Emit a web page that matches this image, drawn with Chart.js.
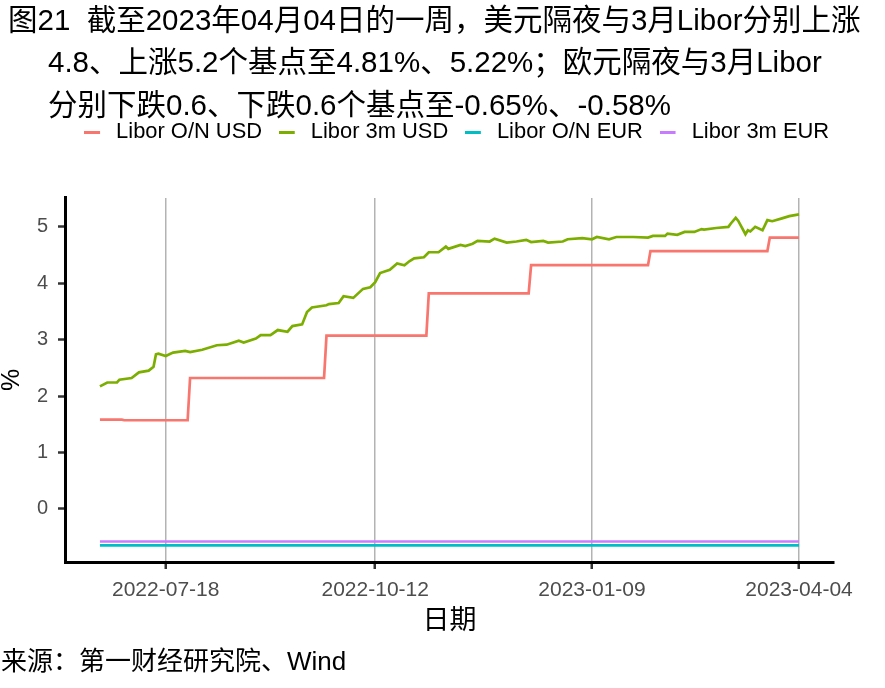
<!DOCTYPE html>
<html>
<head>
<meta charset="utf-8">
<script src="https://cdn.jsdelivr.net/npm/chart.js@4.4.1/dist/chart.umd.min.js"></script>
<style>
  body { margin: 0; background: #fff; }
  #wrap { position: relative; width: 885px; height: 688px; font-family: "Liberation Sans", "Noto Sans CJK SC", sans-serif; }
  #chart { position: absolute; left: 0; top: 0; }
  .txt { position: absolute; white-space: nowrap; color: #000; }
  .title { font-size: 29.5px; line-height: 34px; }
  .source { font-size: 26px; line-height: 30px; }
</style>
</head>
<body>
<div id="wrap">
  <canvas id="chart" width="885" height="688"></canvas>
  <div class="txt title" style="left:8px;top:3px">图21&nbsp;&nbsp;截至2023年04月04日的一周，美元隔夜与3月Libor分别上涨</div>
  <div class="txt title" style="left:48px;top:45px">4.8、上涨5.2个基点至4.81%、5.22%；欧元隔夜与3月Libor</div>
  <div class="txt title" style="left:48px;top:88px">分别下跌0.6、下跌0.6个基点至-0.65%、-0.58%</div>
  <div class="txt source" style="left:1px;top:646px">来源：第一财经研究院、Wind</div>
</div>
<script>
// Libor O/N USD (step changes after each Fed hike)
var usdOnDates = ['2022-06-21', '2022-06-30', '2022-07-01', '2022-07-27', '2022-07-28', '2022-09-21',
    '2022-09-22', '2022-11-02', '2022-11-03', '2022-12-14', '2022-12-15', '2023-02-01', '2023-02-02',
    '2023-03-22', '2023-03-23', '2023-04-04'];
var usdOnValues = [1.58, 1.58, 1.57, 1.57, 2.32, 2.32, 3.07, 3.07, 3.82, 3.82, 4.32, 4.32, 4.57, 4.57, 4.81, 4.81];

// Libor 3m USD
var usd3mDates = ['2022-06-21', '2022-06-24', '2022-06-28', '2022-06-29', '2022-07-04', '2022-07-07',
    '2022-07-11', '2022-07-13', '2022-07-14', '2022-07-15', '2022-07-18', '2022-07-21', '2022-07-26',
    '2022-07-28', '2022-08-02', '2022-08-08', '2022-08-12', '2022-08-17', '2022-08-19', '2022-08-24',
    '2022-08-26', '2022-08-30', '2022-09-02', '2022-09-06', '2022-09-08', '2022-09-12', '2022-09-14',
    '2022-09-16', '2022-09-22', '2022-09-23', '2022-09-27', '2022-09-29', '2022-10-03', '2022-10-07',
    '2022-10-10', '2022-10-12', '2022-10-14', '2022-10-18', '2022-10-21', '2022-10-24', '2022-10-26',
    '2022-10-28', '2022-11-01', '2022-11-03', '2022-11-07', '2022-11-10', '2022-11-11', '2022-11-16',
    '2022-11-18', '2022-11-21', '2022-11-23', '2022-11-28', '2022-11-30', '2022-12-05', '2022-12-09',
    '2022-12-13', '2022-12-15', '2022-12-20', '2022-12-22', '2022-12-28', '2022-12-30', '2023-01-05',
    '2023-01-09', '2023-01-11', '2023-01-16', '2023-01-19', '2023-01-26', '2023-02-01', '2023-02-03',
    '2023-02-08', '2023-02-09', '2023-02-13', '2023-02-16', '2023-02-20', '2023-02-23', '2023-02-24',
    '2023-03-01', '2023-03-06', '2023-03-07', '2023-03-09', '2023-03-10', '2023-03-13', '2023-03-14',
    '2023-03-15', '2023-03-17', '2023-03-20', '2023-03-22', '2023-03-24', '2023-03-28', '2023-03-31',
    '2023-04-04'];
var usd3mValues = [2.17, 2.24, 2.24, 2.29, 2.32, 2.42,
    2.45, 2.52, 2.74, 2.75, 2.71, 2.77, 2.80,
    2.78, 2.82, 2.90, 2.91, 2.98, 2.95, 3.02,
    3.08, 3.08, 3.17, 3.14, 3.24, 3.27, 3.49,
    3.57, 3.61, 3.63, 3.65, 3.77, 3.74, 3.90,
    3.93, 4.02, 4.18, 4.24, 4.35, 4.32, 4.39,
    4.44, 4.46, 4.55, 4.55, 4.65, 4.61, 4.68,
    4.66, 4.70, 4.75, 4.74, 4.79, 4.72, 4.74,
    4.77, 4.73, 4.75, 4.72, 4.74, 4.78, 4.80,
    4.78, 4.82, 4.78, 4.82, 4.82, 4.81, 4.84,
    4.84, 4.88, 4.86, 4.91, 4.91, 4.96, 4.95,
    4.98, 5.00, 5.06, 5.16, 5.11, 4.87, 4.94,
    4.92, 5.00, 4.94, 5.12, 5.10, 5.15, 5.19,
    5.22];

// Libor O/N EUR and 3m EUR (flat)
var eurOnDates = ['2022-06-21', '2023-04-04'];
var eurOnValues = [-0.65, -0.65];
var eur3mDates = ['2022-06-21', '2023-04-04'];
var eur3mValues = [-0.58, -0.58];

var seriesNames = ['Libor O/N USD', 'Libor 3m USD', 'Libor O/N EUR', 'Libor 3m EUR'];
var seriesColors = ['#F8766D', '#7CAE00', '#00BFC4', '#C77CFF'];
var xTickDates = ['2022-07-18', '2022-10-12', '2023-01-09', '2023-04-04'];
var yTickValues = [0, 1, 2, 3, 4, 5];

function dayNum(s) {
    var p = s.split('-');
    return Date.UTC(+p[0], +p[1] - 1, +p[2]) / 86400000;
}
function dayLabel(d) {
    return new Date(Math.round(d) * 86400000).toISOString().slice(0, 10);
}
function toPoints(dates, values) {
    return dates.map(function (d, i) { return { x: dayNum(d), y: values[i] }; });
}

// ggplot style 5% expansion on both axes
var allDays = [].concat(usdOnDates, usd3mDates, eurOnDates, eur3mDates).map(dayNum);
var allVals = [].concat(usdOnValues, usd3mValues, eurOnValues, eur3mValues);
var xLo = Math.min.apply(null, allDays), xHi = Math.max.apply(null, allDays);
var yLo = Math.min.apply(null, allVals), yHi = Math.max.apply(null, allVals);
var xPad = (xHi - xLo) * 0.05, yPad = (yHi - yLo) * 0.05;

var legendFont = 21.9, legendPad = 16.5;

function swatch(color) {
    var c = document.createElement('canvas');
    c.width = 21; c.height = 3;
    var g = c.getContext('2d');
    g.fillStyle = color;
    g.fillRect(0, 0, 16, 3);
    return c;
}

// put the legend where the reference has it
var legendPlace = {
    id: 'legendPlace',
    afterLayout: function (chart) {
        var lg = chart.legend;
        var h = lg.bottom - lg.top;
        lg.left = 29;
        lg.right = 884;
        lg.top = 132 - legendPad - legendFont / 2;
        lg.bottom = lg.top + h;
    }
};

Chart.defaults.font.family = '"Liberation Sans", "Noto Sans CJK SC", sans-serif';

var seriesData = [
    toPoints(usdOnDates, usdOnValues),
    toPoints(usd3mDates, usd3mValues),
    toPoints(eurOnDates, eurOnValues),
    toPoints(eur3mDates, eur3mValues)
];

var ctx = document.getElementById('chart').getContext('2d');
var chart = new Chart(ctx, {
    type: 'line',
    data: {
        datasets: seriesData.map(function (pts, i) {
            return {
                label: seriesNames[i],
                data: pts,
                borderColor: seriesColors[i],
                backgroundColor: seriesColors[i],
                borderWidth: 2.7,
                pointRadius: 0,
                tension: 0,
                fill: false
            };
        })
    },
    options: {
        responsive: false,
        animation: false,
        events: [],
        layout: { padding: { top: 149.5, right: 51, bottom: 49, left: 0 } },
        plugins: {
            tooltip: { enabled: false },
            legend: {
                position: 'top',
                labels: {
                    usePointStyle: true,
                    pointStyleWidth: 21.25,
                    padding: legendPad,
                    color: '#000',
                    font: { size: legendFont },
                    generateLabels: function (chart) {
                        return chart.data.datasets.map(function (ds, i) {
                            return {
                                text: ds.label,
                                pointStyle: swatch(ds.borderColor),
                                fillStyle: ds.borderColor,
                                strokeStyle: ds.borderColor,
                                lineWidth: 0,
                                hidden: false,
                                datasetIndex: i
                            };
                        });
                    }
                }
            }
        },
        scales: {
            x: {
                type: 'linear',
                bounds: 'data',
                min: xLo - xPad,
                max: xHi + xPad,
                afterBuildTicks: function (scale) {
                    scale.ticks = xTickDates.map(function (d) { return { value: dayNum(d) }; });
                },
                afterFit: function (scale) { scale.height = 77; },
                ticks: {
                    callback: function (v) { return dayLabel(v); },
                    color: '#4d4d4d',
                    font: { size: 21 },
                    padding: 9,
                    maxRotation: 0,
                    autoSkip: false
                },
                grid: { color: '#b3b3b3', lineWidth: 1.5, tickColor: '#333', tickWidth: 2.5, tickLength: 7 },
                border: { display: true, color: '#000', width: 3 },
                title: { display: true, text: '日期', color: '#000', font: { size: 27 }, padding: { top: 0, bottom: 1 } }
            },
            y: {
                type: 'linear',
                bounds: 'data',
                min: yLo - yPad,
                max: yHi + yPad,
                afterBuildTicks: function (scale) {
                    scale.ticks = yTickValues.map(function (v) { return { value: v }; });
                },
                afterFit: function (scale) { scale.width = 65; },
                ticks: { color: '#4d4d4d', font: { size: 20 }, padding: 10 },
                grid: { drawOnChartArea: false, tickColor: '#333', tickWidth: 2.5, tickLength: 7 },
                border: { display: true, color: '#000', width: 3 },
                title: { display: true, text: '%', color: '#000', font: { size: 25, lineHeight: 1 }, padding: 0 }
            }
        }
    },
    plugins: [legendPlace]
});
</script>
</body>
</html>
